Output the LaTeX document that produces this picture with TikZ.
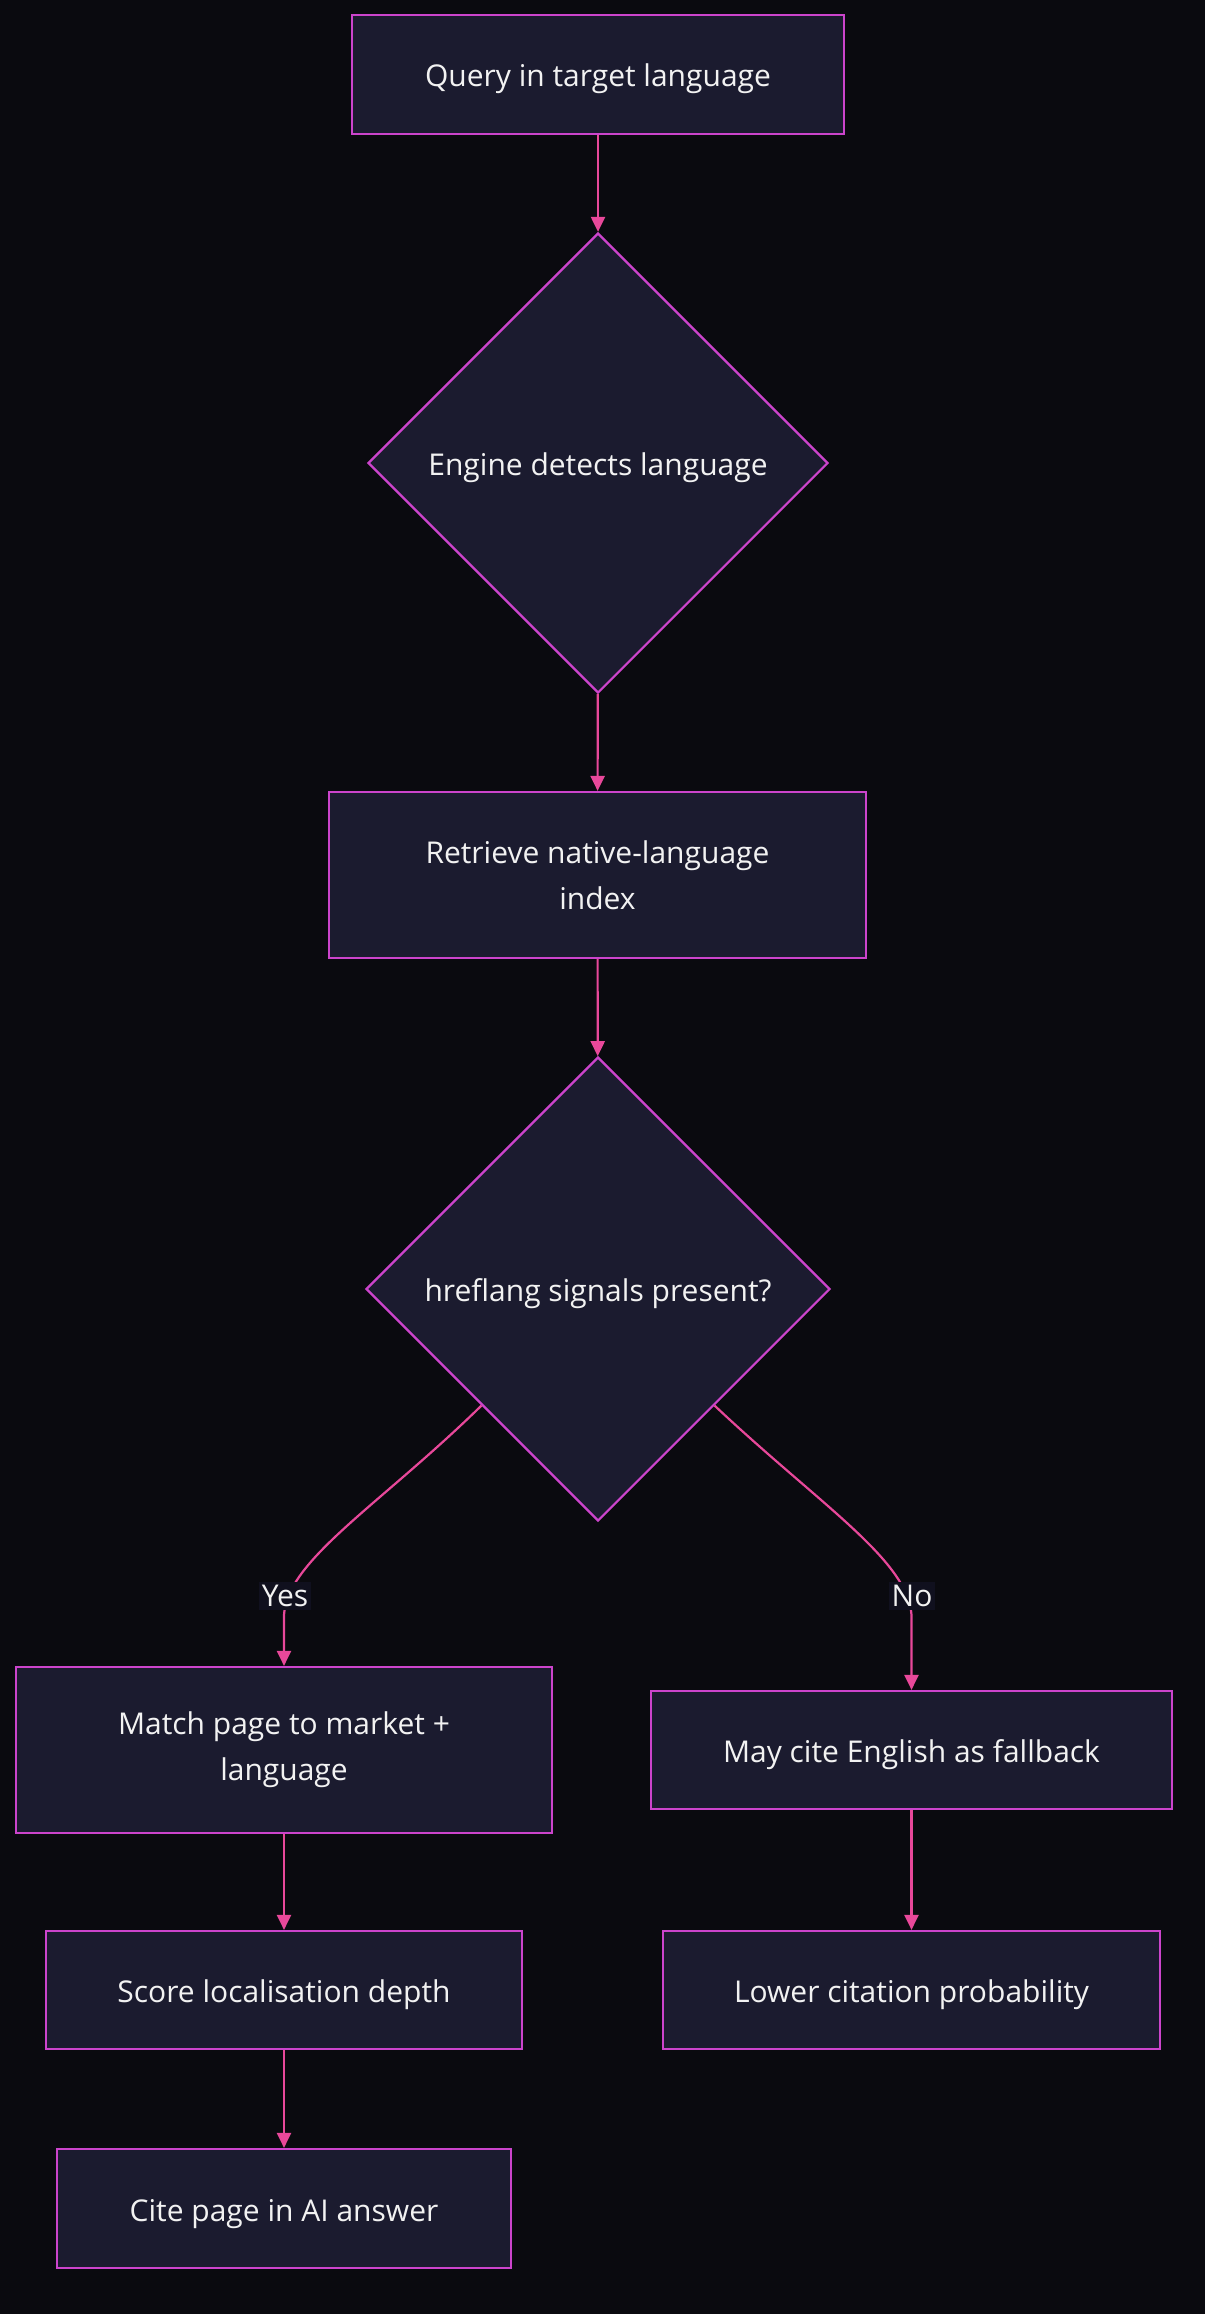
\documentclass[tikz,border=0pt]{standalone}
\usepackage{fontspec}
\setmainfont{Open Sans}
\usetikzlibrary{shapes.geometric,arrows.meta}
\definecolor{bgc}{HTML}{0A0A0F}
\definecolor{boxfill}{HTML}{1B1B2F}
\definecolor{boxline}{HTML}{CC44CC}
\definecolor{edgec}{HTML}{E8489A}
\definecolor{lblfill}{HTML}{10101E}
\definecolor{txt}{HTML}{F2F2F2}
\tikzset{
  x=1pt,y=-1pt,
  base/.style={draw=boxline,line width=2.2pt,fill=boxfill,text=txt,
    font=\fontsize{30}{46}\selectfont,align=center,inner sep=0pt},
  stepbox/.style={base,rectangle},
  oneline/.style={text height=32pt,text depth=7pt},
  decision/.style={base,diamond,aspect=1,oneline},
  edge/.style={draw=edgec,line width=2.2pt,-{Triangle[length=15pt,width=14pt]}},
  elabel/.style={fill=lblfill,text=txt,font=\fontsize{30}{34}\selectfont,inner sep=3pt}
}
\begin{document}
\begin{tikzpicture}
\useasboundingbox (0,0) rectangle (1204,2314);
\fill[bgc] (-6,-6) rectangle (1210,2320);
\node[stepbox,oneline,minimum width=492pt,minimum height=119pt] (q) at (598,74.5) {Query in target language};
\node[decision,minimum width=460pt,minimum height=460pt] (d1) at (598,463) {Engine detects language};
\node[stepbox,minimum width=537pt,minimum height=166pt] (r) at (597.5,875) {Retrieve native-language\\index};
\node[decision,minimum width=464pt,minimum height=464pt] (d2) at (598,1289) {hreflang signals present?};
\node[stepbox,minimum width=536pt,minimum height=166pt] (m) at (284,1750) {Match page to market +\\language};
\node[stepbox,oneline,minimum width=521pt,minimum height=118pt] (f) at (911.5,1750) {May cite English as fallback};
\node[stepbox,oneline,minimum width=476pt,minimum height=118pt] (s) at (284,1990) {Score localisation depth};
\node[stepbox,oneline,minimum width=497pt,minimum height=118pt] (l) at (911.5,1990) {Lower citation probability};
\node[stepbox,oneline,minimum width=454pt,minimum height=119pt] (c) at (284,2208.5) {Cite page in AI answer};

\draw[edge] (q) -- (d1);
\draw[edge] (d1) -- (r);
\draw[edge] (r) -- (d2);
\draw[edge] (d2.south west) .. controls (380,1505) and (287,1560) .. (284,1615) -- (m.north);
\draw[edge] (d2.south east) .. controls (820,1505) and (908,1560) .. (911.5,1615) -- (f.north);
\draw[edge] (m) -- (s);
\draw[edge] (s) -- (c);
\draw[edge] (f) -- (l);

\node[elabel] (yl) at (285,1596) {Yes};
\node[elabel] (nl) at (912,1596) {No};
\end{tikzpicture}
\end{document}
